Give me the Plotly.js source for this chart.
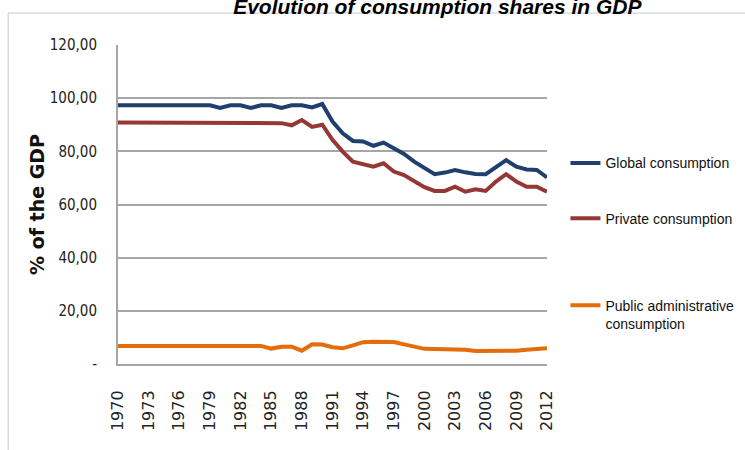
<!DOCTYPE html>
<html>
<head>
<meta charset="utf-8">
<script src="https://cdn.plot.ly/plotly-3.0.1.min.js"></script>
<style>html,body{margin:0;padding:0;background:#fff;}#chart{width:745px;height:450px;}</style>
</head>
<body>
<div id="chart"></div>
<script>
const years = [];
for (let y = 1970; y <= 2012; y++) years.push(String(y));

const globalConsumption = [
  97.3, 97.3, 97.3, 97.3, 97.3, 97.3, 97.3, 97.3, 97.3, 97.3,
  96.3, 97.3, 97.3, 96.3, 97.3, 97.3, 96.3, 97.3, 97.3, 96.5,
  97.8, 91.2, 86.8, 83.9, 83.7, 82.1, 83.3, 81.1, 79.0, 76.1,
  73.6, 71.4, 72.0, 73.0, 72.1, 71.5, 71.4, 74.2, 76.7, 74.2,
  73.2, 73.0, 70.2
];
const privateConsumption = [
  90.8, 90.8, 90.8, 90.8, 90.8, 90.8, 90.8, 90.8, 90.8, 90.8,
  90.8, 90.8, 90.8, 90.8, 90.8, 90.8, 90.6, 89.8, 91.8, 89.2,
  90.0, 84.3, 79.9, 76.1, 75.2, 74.2, 75.5, 72.4, 71.1, 68.6,
  66.5, 65.1, 65.1, 66.7, 64.8, 65.7, 65.1, 68.6, 71.4, 68.6,
  66.7, 66.7, 64.8
];
const publicConsumption = [
  6.8, 6.8, 6.8, 6.8, 6.8, 6.8, 6.8, 6.8, 6.8, 6.8,
  6.8, 6.8, 6.8, 6.8, 6.8, 5.8, 6.5, 6.5, 5.0, 7.4,
  7.3, 6.3, 5.9, 7.0, 8.2, 8.4, 8.4, 8.3, 7.4, 6.4,
  5.7, 5.6, 5.6, 5.6, 5.4, 4.9, 4.9, 4.9, 5.0, 5.0,
  5.4, 5.8, 5.9
];
const xTickVals = ["1970","1973","1976","1979","1982","1985","1988","1991","1994","1997","2000","2003","2006","2009","2012"];
const yTickVals = [0, 20, 40, 60, 80, 100, 120];
const yTickText = ["-", "20,00", "40,00", "60,00", "80,00", "100,00", "120,00"];

const narrow = "Liberation Sans Narrow, DejaVu Sans Condensed, Arial Narrow, sans-serif";

const traces = [
  {x: years, y: globalConsumption, name: "Global consumption", type: "scatter", mode: "lines",
   line: {color: "#1F3F6E", width: 4}, legend: "legend"},
  {x: years, y: privateConsumption, name: "Private consumption", type: "scatter", mode: "lines",
   line: {color: "#953735", width: 4}, legend: "legend2"},
  {x: years, y: publicConsumption, name: "Public administrative<br>consumption", type: "scatter", mode: "lines",
   line: {color: "#E46C0A", width: 4}, legend: "legend3"}
];

const legendBase = {
  xanchor: "left", yanchor: "top", bgcolor: "rgba(0,0,0,0)", borderwidth: 0,
  font: {family: "Liberation Sans, Arial, sans-serif", size: 14, color: "#111"}, valign: "top", itemclick: false
};

const layout = {
  width: 745, height: 450,
  margin: {l: 118, r: 198, t: 45, b: 86, autoexpand: false},
  paper_bgcolor: "#fff", plot_bgcolor: "#fff",
  title: {
    text: "<b><i>Evolution of consumption shares in GDP</i></b>",
    font: {family: "Liberation Sans, Arial, sans-serif", size: 21, color: "#000"},
    x: 0.587, xanchor: "center", xref: "container",
    y: 0.986, yanchor: "middle", yref: "container"
  },
  xaxis: {
    type: "category",
    tickmode: "array", tickvals: xTickVals, ticktext: xTickVals,
    tickangle: -90,
    tickfont: {family: "DejaVu Sans, sans-serif", size: 16, color: "#222"},
    ticks: "", ticklabelstandoff: 18,
    showgrid: false, zeroline: false,
    showline: true, linecolor: "#a6a6a6", linewidth: 2,
    fixedrange: true
  },
  yaxis: {
    range: [0, 120],
    tickmode: "array", tickvals: yTickVals, ticktext: yTickText,
    tickfont: {family: narrow, size: 15, color: "#222"},
    ticks: "", ticklabelstandoff: 16,
    showgrid: true, gridcolor: "#a6a6a6", gridwidth: 2,
    zeroline: false,
    showline: true, linecolor: "#a6a6a6", linewidth: 2,
    title: {text: "<b>% of the GDP</b>", font: {family: "DejaVu Sans, sans-serif", size: 19, color: "#111"}, standoff: 0},
    fixedrange: true
  },
  showlegend: true,
  legend: Object.assign({}, legendBase, {x: 1.043, y: 0.679}),
  legend2: Object.assign({}, legendBase, {x: 1.043, y: 0.506}),
  legend3: Object.assign({}, legendBase, {x: 1.043, y: 0.233}),
  shapes: [
    {type: "rect", xref: "paper", yref: "paper",
     x0: -0.256, x1: 1.6, y0: -0.4, y1: 1.1,
     line: {color: "#c8c8c8", width: 1}, fillcolor: "rgba(0,0,0,0)", layer: "below"}
  ]
};

Plotly.newPlot("chart", traces, layout, {displayModeBar: false, staticPlot: true});
</script>
</body>
</html>
